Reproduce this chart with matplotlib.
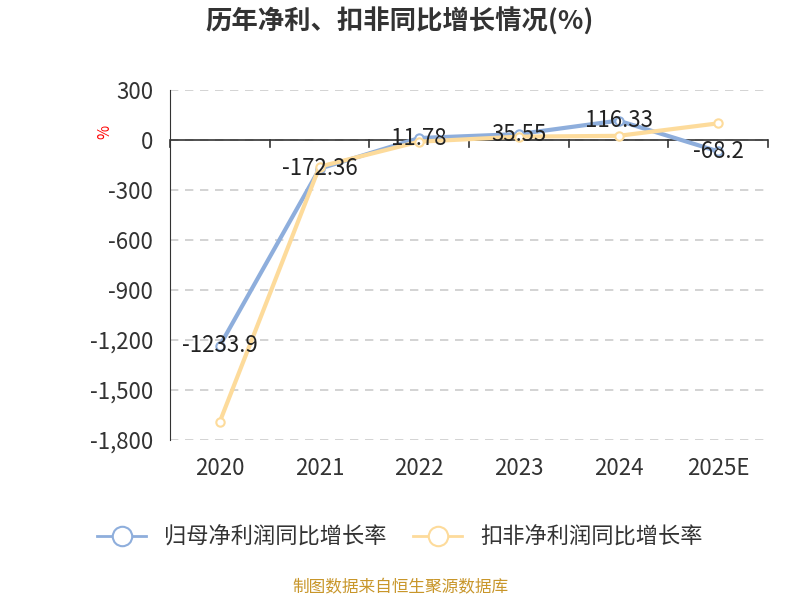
import matplotlib
matplotlib.use("Agg")
import matplotlib.pyplot as plt
from matplotlib.lines import Line2D

plt.rcParams['font.family'] = ['Noto Sans CJK SC', 'DejaVu Sans']

years = ['2020', '2021', '2022', '2023', '2024', '2025E']
net_profit = [-1233.9, -172.36, 11.78, 35.55, 116.33, -68.2]
deducted = [-1690, -160, -10, 20, 25, 100]
yticks = [300, 0, -300, -600, -900, -1200, -1500, -1800]

c1 = '#8eaedc'
c2 = '#fddb9b'

fig = plt.figure(figsize=(8, 6), dpi=100)
ax = fig.add_axes([170/800, 1-440/600, (768-170)/800, 350/600])
x = list(range(len(years)))
ax.plot(x, net_profit, color=c1, lw=3, marker='o', ms=6, mfc='white', mec=c1, mew=1.5, zorder=3)
ax.plot(x, deducted, color=c2, lw=3, marker='o', ms=6, mfc='white', mec=c2, mew=1.5, zorder=4)
for xi, v in zip(x, net_profit):
    ax.text(xi, v, f'{v:g}', ha='center', va='center', fontsize=16, color='#222222', zorder=5)

ax.set_xlim(-0.5, 5.5)
ax.set_ylim(-1800, 300)
ax.set_yticks(yticks)
ax.set_yticklabels([f'{v:,}' for v in yticks], fontsize=16, color='#333333')
ax.yaxis.grid(True, linestyle=(0, (5, 4)), color='#cccccc', lw=1.2)
ax.set_axisbelow(True)
for s in ['top', 'right', 'bottom']:
    ax.spines[s].set_visible(False)
ax.spines['left'].set_color('#333333')
ax.tick_params(axis='y', length=0, pad=12)
ax.set_xticks([])
ax.axhline(0, color='#333333', lw=1.2, zorder=2)
for b in [i - 0.5 for i in range(7)]:
    ax.plot([b, b], [0, -40], color='#333333', lw=1.2, clip_on=False)
for xi, yl in zip(x, years):
    ax.text(xi, -1900, yl, ha='center', va='top', fontsize=16, color='#333333')

fig.text(105/800, 1-132/600, '%', color='red', fontsize=11, rotation=90, ha='center', va='center')
fig.text(0.5, 1-22/600, '历年净利、扣非同比增长情况(%)', ha='center', va='center', fontsize=19, fontweight='bold', color='#333333')

handles = [Line2D([0], [0], color=c1, lw=2, marker='o', ms=14, mfc='white', mec=c1, mew=1.5),
           Line2D([0], [0], color=c2, lw=2, marker='o', ms=14, mfc='white', mec=c2, mew=1.5)]
fig.legend(handles, ['归母净利润同比增长率', '扣非净利润同比增长率'], loc='center', bbox_to_anchor=(0.5, 1-537/600),
           ncol=2, frameon=False, fontsize=16, handlelength=2.2, columnspacing=1.2, labelcolor='#333333')
fig.text(0.5, 1-588/600, '制图数据来自恒生聚源数据库', ha='center', va='center', fontsize=12, color='#c8962a')

fig.savefig('out.png', dpi=100)
